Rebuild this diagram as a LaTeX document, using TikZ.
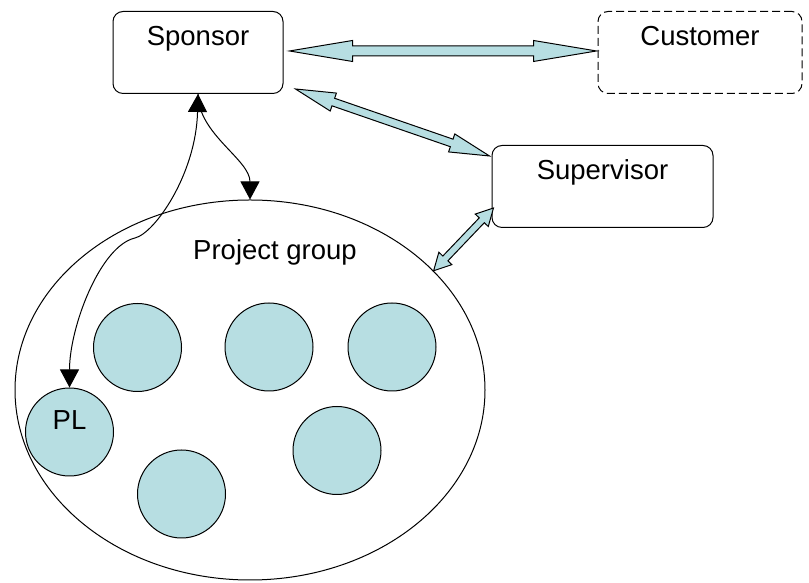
\documentclass[tikz,border=0pt]{standalone}
\usepackage{fontspec}
\setmainfont{Liberation Sans}
\usepackage{tikz}
\usetikzlibrary{
  arrows.meta, positioning, calc, shapes.geometric
}
\definecolor{teamblue}{HTML}{B7DEE2}

% from, to, head length, head half width, shaft half width
\newcommand{\blockarrow}[5]{%
  \draw[fatarrow] (#1)
    -- ($(#1)!#3!(#2)!#4!90:(#2)$) -- ($(#1)!#3!(#2)!#5!90:(#2)$)
    -- ($(#2)!#3!(#1)!#5!-90:(#1)$) -- ($(#2)!#3!(#1)!#4!-90:(#1)$)
    -- (#2)
    -- ($(#2)!#3!(#1)!#4!90:(#1)$) -- ($(#2)!#3!(#1)!#5!90:(#1)$)
    -- ($(#1)!#3!(#2)!#5!-90:(#2)$) -- ($(#1)!#3!(#2)!#4!-90:(#2)$)
    -- cycle;}

\begin{document}
\begin{tikzpicture}[x=1pt, y=1pt, >={Triangle[length=18pt, width=19pt]},
  box/.style={draw, rounded corners=10pt, line width=1pt, inner sep=0pt,
    text height=34pt, text depth=48pt, font=\fontsize{27.5}{33}\selectfont},
  member/.style={draw, circle, fill=teamblue, line width=1pt, inner sep=0pt,
    minimum size=88pt, text height=20pt, text depth=24pt,
    font=\fontsize{27.5}{33}\selectfont},
  fatarrow/.style={draw, fill=teamblue, line width=1pt, line join=miter}]
  \useasboundingbox (0, 0) rectangle (809, 583);

  % Roles
  \node[box, minimum width=170pt] (sponsor) at (198, 530.5) {Sponsor};
  \node[box, dash pattern=on 8pt off 4pt, minimum width=204pt]
    (customer) at (700, 530.5) {Customer};
  \node[box, minimum width=221pt] (supervisor) at (602.5, 396.5) {Supervisor};

  % Project group
  \node[draw, ellipse, line width=1pt, inner sep=0pt,
    minimum width=470pt, minimum height=380pt] (group) at (250, 193) {};
  \node[anchor=base, font=\fontsize{27.5}{33}\selectfont]
    (grouplabel) at (275, 323) {Project group};

  % Members
  \node[member] (pl) at (69.5, 151) {PL};
  \node[member] (m1) at (137.5, 235.5) {};
  \node[member] (m2) at (269, 236) {};
  \node[member] (m3) at (392, 236) {};
  \node[member] (m4) at (337, 132.5) {};
  \node[member] (m5) at (181.5, 89) {};

  % Block arrows
  \coordinate (sc1) at ([shift={(6, 1.5)}]sponsor.east);
  \coordinate (sc2) at ([shift={(-1, 1.5)}]customer.west);
  \coordinate (ss1) at ([shift={(12, 5)}]sponsor.south east);
  \coordinate (ss2) at ([shift={(-2, -11)}]supervisor.north west);
  \coordinate (sg1) at ([shift={(2, -21.5)}]supervisor.west);
  \coordinate (sg2) at (group.33);
  \blockarrow{sc1}{sc2}{63pt}{10.5pt}{5pt}
  \blockarrow{ss1}{ss2}{40pt}{9.5pt}{4pt}
  \blockarrow{sg1}{sg2}{17pt}{9pt}{3.5pt}

  % Sponsor links
  \coordinate (kink) at (135, 345);
  \draw[<->, line width=1pt] (sponsor.south)
    .. controls +(-2, -80) and +(20, 5) .. (kink)
    .. controls +(-35, -8) and +(0, 60) .. (pl.north);
  \draw[->, line width=1pt] (sponsor.south)
    .. controls +(0, -40) and +(0, 40) .. (group.north);
\end{tikzpicture}
\end{document}
